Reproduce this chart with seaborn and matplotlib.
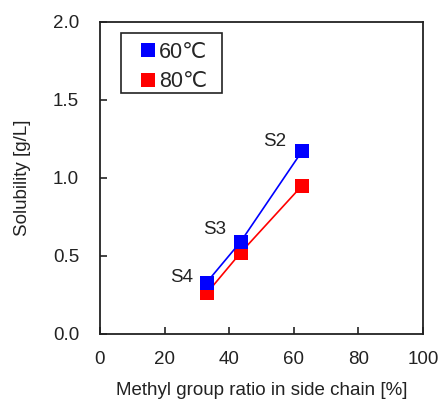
import matplotlib
matplotlib.use("Agg")
import matplotlib.pyplot as plt
from matplotlib.patches import Rectangle
import seaborn as sns
import pandas as pd

# Solubility vs. methyl group ratio at two temperatures
methyl_ratio = [33.0, 43.5, 62.5]
sample_names = ["S4", "S3", "S2"]
solubility_60 = [0.33, 0.59, 1.17]
solubility_80 = [0.26, 0.52, 0.95]
series_labels = ["60\u2103", "80\u2103"]

# pixel offsets of the sample labels from the 60°C markers
label_offsets = [(-25, 5), (-26, 12), (-27, 10)]

df = pd.DataFrame({
    "ratio": methyl_ratio * 2,
    "solubility": solubility_60 + solubility_80,
    "temp": [series_labels[0]] * 3 + [series_labels[1]] * 3,
})

sns.set_style("ticks")
plt.rcParams["font.family"] = ["Liberation Sans", "DejaVu Sans"]

fig = plt.figure(figsize=(4.39, 3.99), dpi=100)
ax = fig.add_axes([100 / 439, 1 - 334 / 399, 323 / 439, 312 / 399])

palette = {series_labels[0]: "#0000ff", series_labels[1]: "#ff0000"}
sns.lineplot(data=df, x="ratio", y="solubility", hue="temp", style="temp",
             markers={series_labels[0]: "s", series_labels[1]: "s"},
             dashes=False, palette=palette, markersize=10, markeredgewidth=0,
             linewidth=1.2, ax=ax, legend=False)

# Put the 60°C markers on top of the 80°C ones
for ln in ax.lines:
    if ln.get_color() in ("#0000ff", (0.0, 0.0, 1.0)):
        ln.set_zorder(4)

for x, y, name, off in zip(methyl_ratio, solubility_60, sample_names,
                           label_offsets):
    ax.annotate(name, (x, y), xytext=off, textcoords="offset pixels",
                fontsize=13.5, ha="center", va="center", color="#222222")

ax.set_xlim(0, 100)
ax.set_ylim(0, 2.0)
ax.set_xticks([0, 20, 40, 60, 80, 100])
ax.set_yticks([0.0, 0.5, 1.0, 1.5, 2.0])
ax.set_yticklabels(["0.0", "0.5", "1.0", "1.5", "2.0"])
ax.tick_params(direction="in", length=5, width=1.2, labelsize=13.5,
               colors="#222222")
ax.tick_params(axis="x", pad=12)
ax.tick_params(axis="y", pad=15)
for s in ax.spines.values():
    s.set_visible(True)
    s.set_linewidth(1.3)
    s.set_color("#222222")

ax.set_xlabel("Methyl group ratio in side chain [%]", fontsize=13.5,
              color="#222222", labelpad=10.5)
ax.set_ylabel("Solubility [g/L]", fontsize=13.5, color="#222222", labelpad=16)

handles = [plt.Line2D([], [], marker="s", linestyle="none", markersize=10,
                      markeredgewidth=0, color=palette[l]) for l in series_labels]
leg = ax.legend(handles, series_labels, loc="upper left",
                bbox_to_anchor=(40.5 / 323, 1 - 19.5 / 312), borderaxespad=0,
                fontsize=15.5, frameon=False, handlelength=0.7,
                handletextpad=0.16, borderpad=0, labelspacing=0.4)

# legend frame
ax.add_patch(Rectangle((21 / 323, 1 - 71 / 312), 101 / 323, 60 / 312,
                       transform=ax.transAxes, fill=False,
                       edgecolor="#222222", linewidth=1.2, zorder=5))

fig.savefig("out.png", dpi=100)
